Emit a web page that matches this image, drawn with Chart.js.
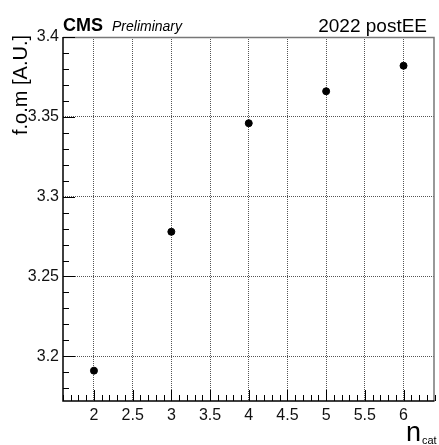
<!DOCTYPE html>
<html>
<head>
<meta charset="utf-8">
<script src="https://cdn.jsdelivr.net/npm/chart.js@4"></script>
<style>
  html, body { margin: 0; padding: 0; background: #fff; }
  #wrap { width: 439px; height: 445px; }
</style>
</head>
<body>
<div id="wrap"><canvas id="fom" width="439" height="445"></canvas></div>
<script>
// figure of merit vs number of categories
const nCat = [2, 3, 4, 5, 6];
const fom = [3.191, 3.278, 3.346, 3.366, 3.382];

const xTicks = [2, 2.5, 3, 3.5, 4, 4.5, 5, 5.5, 6];
const yTicks = [3.2, 3.25, 3.3, 3.35, 3.4];
const xRange = [1.6, 6.4];
const yRange = [3.172, 3.4];

const FONT = "'Liberation Sans', Arial, Helvetica, sans-serif";

// ROOT-style inward ticks, frame and labels
const rootFrame = {
  id: "rootFrame",
  afterDraw(chart) {
    const { ctx, chartArea: a, scales: { x, y } } = chart;
    ctx.save();

    // top / right frame
    ctx.strokeStyle = "#777";
    ctx.lineWidth = 1.5;
    ctx.beginPath();
    ctx.moveTo(a.left, a.top + 0.5);
    ctx.lineTo(a.right - 0.5, a.top + 0.5);
    ctx.lineTo(a.right - 0.5, a.bottom);
    ctx.stroke();

    // left / bottom axes
    ctx.strokeStyle = "#000";
    ctx.lineWidth = 1.5;
    ctx.beginPath();
    ctx.moveTo(a.left, a.top);
    ctx.lineTo(a.left, a.bottom);
    ctx.lineTo(a.right, a.bottom);
    ctx.stroke();

    // x ticks (major every 0.5, minor every 0.1)
    ctx.lineWidth = 1;
    ctx.beginPath();
    for (let i = Math.round(xRange[0] * 10); i <= Math.round(xRange[1] * 10); i++) {
      const v = i / 10;
      const px = Math.round(x.getPixelForValue(v)) + 0.5;
      const len = i % 5 === 0 ? 11 : 6;
      ctx.moveTo(px, a.bottom);
      ctx.lineTo(px, a.bottom - len);
    }
    // y ticks (major every 0.05, minor every 0.01)
    for (let i = Math.ceil(yRange[0] * 100); i <= Math.round(yRange[1] * 100); i++) {
      const v = i / 100;
      const py = Math.round(y.getPixelForValue(v)) + 0.5;
      const len = i % 5 === 0 ? 12 : 6;
      ctx.moveTo(a.left, py);
      ctx.lineTo(a.left + len, py);
    }
    ctx.stroke();

    // header
    ctx.fillStyle = "#000";
    ctx.textBaseline = "alphabetic";
    ctx.textAlign = "left";
    ctx.font = "bold 18px " + FONT;
    ctx.fillText("CMS", 63, 31);
    ctx.font = "italic 14px " + FONT;
    ctx.fillText("Preliminary", 112, 31);
    ctx.textAlign = "right";
    ctx.font = "19px " + FONT;
    ctx.fillText("2022 postEE", 427, 32);

    // y title
    ctx.save();
    ctx.translate(27, 35);
    ctx.rotate(-Math.PI / 2);
    ctx.textAlign = "right";
    ctx.font = "20px " + FONT;
    ctx.fillText("f.o.m [A.U.]", 0, 0);
    ctx.restore();

    // x title
    ctx.textAlign = "left";
    ctx.font = "27px " + FONT;
    ctx.fillText("n", 406, 441);
    ctx.font = "11px " + FONT;
    ctx.fillText("cat", 422, 444);

    ctx.restore();
  }
};

const fmt = v => String(Math.round(v * 100) / 100);

new Chart(document.getElementById("fom"), {
  type: "scatter",
  data: {
    datasets: [{
      data: nCat.map((n, i) => ({ x: n, y: fom[i] })),
      backgroundColor: "#000",
      borderColor: "#000",
      pointRadius: 3.5,
      pointHoverRadius: 3.5
    }]
  },
  options: {
    responsive: false,
    animation: false,
    devicePixelRatio: 1,
    layout: { padding: { left: 0, top: 37, right: 2, bottom: 0 } },
    plugins: { legend: { display: false }, tooltip: { enabled: false } },
    scales: {
      x: {
        type: "linear",
        min: xRange[0],
        max: xRange[1],
        afterBuildTicks: s => { s.ticks = xTicks.map(v => ({ value: v })); },
        afterFit: s => { s.height = 44; },
        grid: { color: "#555", lineWidth: 1, drawTicks: false },
        border: { display: false, dash: [1, 1] },
        ticks: {
          padding: 5,
          maxRotation: 0,
          color: "#111",
          font: { family: FONT, size: 16 },
          callback: v => fmt(v)
        }
      },
      y: {
        type: "linear",
        min: yRange[0],
        max: yRange[1],
        afterBuildTicks: s => { s.ticks = yTicks.map(v => ({ value: v })); },
        afterFit: s => { s.width = 63; },
        grid: { color: "#555", lineWidth: 1, drawTicks: false },
        border: { display: false, dash: [1, 1] },
        ticks: {
          padding: 4,
          color: "#111",
          font: { family: FONT, size: 16 },
          callback: v => fmt(v)
        }
      }
    }
  },
  plugins: [rootFrame]
});
</script>
</body>
</html>
